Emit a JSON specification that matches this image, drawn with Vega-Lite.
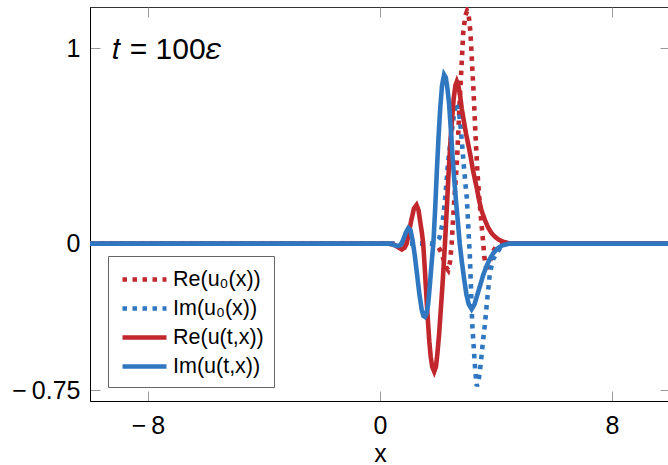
{
  "$schema": "https://vega.github.io/schema/vega-lite/v6.json",
  "width": 580,
  "height": 394,
  "autosize": {"type": "none"},
  "padding": {"left": 90, "top": 7, "right": 0, "bottom": 64},
  "config": {
    "font": "Liberation Sans",
    "view": {"stroke": "#333333", "strokeWidth": 1},
    "axis": {"grid": false, "labelFont": "Liberation Sans", "titleFont": "Liberation Sans", "labelColor": "#000000", "titleColor": "#000000", "domainColor": "#000000", "tickColor": "#999999", "tickSize": -10, "labelFontSize": 25, "titleFontSize": 25, "titleFontWeight": "normal"},
    "legend": {"title": null, "orient": "none", "legendX": 18, "legendY": 249, "padding": 10, "fillColor": "#ffffff", "strokeColor": "#666666", "labelFontSize": 21.5, "labelFont": "Liberation Sans", "labelColor": "#000000", "symbolType": "M-2,0H2", "symbolSize": 484, "symbolStrokeWidth": 4.6, "symbolOffset": 13, "rowPadding": 5, "labelOffset": 15}
  },
  "datasets": {
    "curves": [
      {"s": "Re(u₀(x))", "x": -10, "y": 0},
      {"s": "Re(u₀(x))", "x": 1.7, "y": 0},
      {"s": "Re(u₀(x))", "x": 1.9, "y": -0.005},
      {"s": "Re(u₀(x))", "x": 2.0, "y": -0.015},
      {"s": "Re(u₀(x))", "x": 2.1, "y": -0.04},
      {"s": "Re(u₀(x))", "x": 2.2, "y": -0.085},
      {"s": "Re(u₀(x))", "x": 2.28, "y": -0.12},
      {"s": "Re(u₀(x))", "x": 2.35, "y": -0.135},
      {"s": "Re(u₀(x))", "x": 2.42, "y": -0.09},
      {"s": "Re(u₀(x))", "x": 2.47, "y": 0.0},
      {"s": "Re(u₀(x))", "x": 2.53, "y": 0.15},
      {"s": "Re(u₀(x))", "x": 2.58, "y": 0.26},
      {"s": "Re(u₀(x))", "x": 2.64, "y": 0.39},
      {"s": "Re(u₀(x))", "x": 2.7, "y": 0.565},
      {"s": "Re(u₀(x))", "x": 2.75, "y": 0.735},
      {"s": "Re(u₀(x))", "x": 2.81, "y": 0.906},
      {"s": "Re(u₀(x))", "x": 2.87, "y": 1.08},
      {"s": "Re(u₀(x))", "x": 2.94, "y": 1.165},
      {"s": "Re(u₀(x))", "x": 3.0, "y": 1.19},
      {"s": "Re(u₀(x))", "x": 3.06, "y": 1.165},
      {"s": "Re(u₀(x))", "x": 3.12, "y": 1.08},
      {"s": "Re(u₀(x))", "x": 3.18, "y": 0.906},
      {"s": "Re(u₀(x))", "x": 3.24, "y": 0.735},
      {"s": "Re(u₀(x))", "x": 3.29, "y": 0.565},
      {"s": "Re(u₀(x))", "x": 3.35, "y": 0.39},
      {"s": "Re(u₀(x))", "x": 3.41, "y": 0.26},
      {"s": "Re(u₀(x))", "x": 3.47, "y": 0.15},
      {"s": "Re(u₀(x))", "x": 3.55, "y": 0.02},
      {"s": "Re(u₀(x))", "x": 3.6, "y": -0.07},
      {"s": "Re(u₀(x))", "x": 3.66, "y": -0.12},
      {"s": "Re(u₀(x))", "x": 3.72, "y": -0.12},
      {"s": "Re(u₀(x))", "x": 3.8, "y": -0.085},
      {"s": "Re(u₀(x))", "x": 3.9, "y": -0.04},
      {"s": "Re(u₀(x))", "x": 4.0, "y": -0.015},
      {"s": "Re(u₀(x))", "x": 4.1, "y": -0.005},
      {"s": "Re(u₀(x))", "x": 4.3, "y": 0},
      {"s": "Re(u₀(x))", "x": 10, "y": 0},
      {"s": "Im(u₀(x))", "x": -10, "y": 0},
      {"s": "Im(u₀(x))", "x": 1.8, "y": 0},
      {"s": "Im(u₀(x))", "x": 1.95, "y": 0.01},
      {"s": "Im(u₀(x))", "x": 2.05, "y": 0.03},
      {"s": "Im(u₀(x))", "x": 2.15, "y": 0.1},
      {"s": "Im(u₀(x))", "x": 2.24, "y": 0.22},
      {"s": "Im(u₀(x))", "x": 2.35, "y": 0.42},
      {"s": "Im(u₀(x))", "x": 2.47, "y": 0.57},
      {"s": "Im(u₀(x))", "x": 2.56, "y": 0.67},
      {"s": "Im(u₀(x))", "x": 2.62, "y": 0.71},
      {"s": "Im(u₀(x))", "x": 2.67, "y": 0.72},
      {"s": "Im(u₀(x))", "x": 2.72, "y": 0.68},
      {"s": "Im(u₀(x))", "x": 2.77, "y": 0.61},
      {"s": "Im(u₀(x))", "x": 2.83, "y": 0.51},
      {"s": "Im(u₀(x))", "x": 2.89, "y": 0.4},
      {"s": "Im(u₀(x))", "x": 2.95, "y": 0.3},
      {"s": "Im(u₀(x))", "x": 2.99, "y": 0.24},
      {"s": "Im(u₀(x))", "x": 3.04, "y": 0.1},
      {"s": "Im(u₀(x))", "x": 3.1, "y": -0.07},
      {"s": "Im(u₀(x))", "x": 3.14, "y": -0.24},
      {"s": "Im(u₀(x))", "x": 3.18, "y": -0.41},
      {"s": "Im(u₀(x))", "x": 3.24, "y": -0.55},
      {"s": "Im(u₀(x))", "x": 3.29, "y": -0.66},
      {"s": "Im(u₀(x))", "x": 3.34, "y": -0.73},
      {"s": "Im(u₀(x))", "x": 3.4, "y": -0.7},
      {"s": "Im(u₀(x))", "x": 3.47, "y": -0.62},
      {"s": "Im(u₀(x))", "x": 3.55, "y": -0.5},
      {"s": "Im(u₀(x))", "x": 3.62, "y": -0.41},
      {"s": "Im(u₀(x))", "x": 3.7, "y": -0.28},
      {"s": "Im(u₀(x))", "x": 3.79, "y": -0.15},
      {"s": "Im(u₀(x))", "x": 3.9, "y": -0.08},
      {"s": "Im(u₀(x))", "x": 4.02, "y": -0.05},
      {"s": "Im(u₀(x))", "x": 4.15, "y": -0.02},
      {"s": "Im(u₀(x))", "x": 4.35, "y": 0},
      {"s": "Im(u₀(x))", "x": 10, "y": 0},
      {"s": "Re(u(t,x))", "x": -10, "y": 0},
      {"s": "Re(u(t,x))", "x": 0.3, "y": 0},
      {"s": "Re(u(t,x))", "x": 0.5, "y": -0.006},
      {"s": "Re(u(t,x))", "x": 0.62, "y": -0.018},
      {"s": "Re(u(t,x))", "x": 0.75, "y": -0.03},
      {"s": "Re(u(t,x))", "x": 0.85, "y": -0.02},
      {"s": "Re(u(t,x))", "x": 0.92, "y": 0},
      {"s": "Re(u(t,x))", "x": 1.0, "y": 0.06},
      {"s": "Re(u(t,x))", "x": 1.08, "y": 0.12},
      {"s": "Re(u(t,x))", "x": 1.17, "y": 0.18},
      {"s": "Re(u(t,x))", "x": 1.26, "y": 0.198},
      {"s": "Re(u(t,x))", "x": 1.33, "y": 0.17},
      {"s": "Re(u(t,x))", "x": 1.4, "y": 0.1},
      {"s": "Re(u(t,x))", "x": 1.45, "y": 0.05},
      {"s": "Re(u(t,x))", "x": 1.49, "y": 0},
      {"s": "Re(u(t,x))", "x": 1.55, "y": -0.14},
      {"s": "Re(u(t,x))", "x": 1.6, "y": -0.27},
      {"s": "Re(u(t,x))", "x": 1.65, "y": -0.39},
      {"s": "Re(u(t,x))", "x": 1.7, "y": -0.5},
      {"s": "Re(u(t,x))", "x": 1.75, "y": -0.58},
      {"s": "Re(u(t,x))", "x": 1.8, "y": -0.63},
      {"s": "Re(u(t,x))", "x": 1.87, "y": -0.655},
      {"s": "Re(u(t,x))", "x": 1.93, "y": -0.63},
      {"s": "Re(u(t,x))", "x": 1.98, "y": -0.56},
      {"s": "Re(u(t,x))", "x": 2.04, "y": -0.46},
      {"s": "Re(u(t,x))", "x": 2.1, "y": -0.33},
      {"s": "Re(u(t,x))", "x": 2.16, "y": -0.2},
      {"s": "Re(u(t,x))", "x": 2.2, "y": -0.1},
      {"s": "Re(u(t,x))", "x": 2.24, "y": 0},
      {"s": "Re(u(t,x))", "x": 2.3, "y": 0.17},
      {"s": "Re(u(t,x))", "x": 2.36, "y": 0.35},
      {"s": "Re(u(t,x))", "x": 2.42, "y": 0.5},
      {"s": "Re(u(t,x))", "x": 2.48, "y": 0.63},
      {"s": "Re(u(t,x))", "x": 2.54, "y": 0.74},
      {"s": "Re(u(t,x))", "x": 2.6, "y": 0.81},
      {"s": "Re(u(t,x))", "x": 2.65, "y": 0.83},
      {"s": "Re(u(t,x))", "x": 2.7, "y": 0.81},
      {"s": "Re(u(t,x))", "x": 2.76, "y": 0.76},
      {"s": "Re(u(t,x))", "x": 2.82, "y": 0.69},
      {"s": "Re(u(t,x))", "x": 2.9, "y": 0.62},
      {"s": "Re(u(t,x))", "x": 2.97, "y": 0.56},
      {"s": "Re(u(t,x))", "x": 3.04, "y": 0.51},
      {"s": "Re(u(t,x))", "x": 3.12, "y": 0.45},
      {"s": "Re(u(t,x))", "x": 3.2, "y": 0.38},
      {"s": "Re(u(t,x))", "x": 3.27, "y": 0.33},
      {"s": "Re(u(t,x))", "x": 3.33, "y": 0.29},
      {"s": "Re(u(t,x))", "x": 3.42, "y": 0.22},
      {"s": "Re(u(t,x))", "x": 3.5, "y": 0.17},
      {"s": "Re(u(t,x))", "x": 3.62, "y": 0.12},
      {"s": "Re(u(t,x))", "x": 3.72, "y": 0.085},
      {"s": "Re(u(t,x))", "x": 3.84, "y": 0.055},
      {"s": "Re(u(t,x))", "x": 3.96, "y": 0.036},
      {"s": "Re(u(t,x))", "x": 4.1, "y": 0.02},
      {"s": "Re(u(t,x))", "x": 4.25, "y": 0.01},
      {"s": "Re(u(t,x))", "x": 4.5, "y": 0},
      {"s": "Re(u(t,x))", "x": 10, "y": 0},
      {"s": "Im(u(t,x))", "x": -10, "y": 0},
      {"s": "Im(u(t,x))", "x": 0.35, "y": 0},
      {"s": "Im(u(t,x))", "x": 0.5, "y": -0.008},
      {"s": "Im(u(t,x))", "x": 0.62, "y": -0.012},
      {"s": "Im(u(t,x))", "x": 0.72, "y": -0.005},
      {"s": "Im(u(t,x))", "x": 0.8, "y": 0.02},
      {"s": "Im(u(t,x))", "x": 0.9, "y": 0.06},
      {"s": "Im(u(t,x))", "x": 0.98, "y": 0.08},
      {"s": "Im(u(t,x))", "x": 1.05, "y": 0.07},
      {"s": "Im(u(t,x))", "x": 1.12, "y": 0.02},
      {"s": "Im(u(t,x))", "x": 1.2, "y": -0.06},
      {"s": "Im(u(t,x))", "x": 1.28, "y": -0.16},
      {"s": "Im(u(t,x))", "x": 1.36, "y": -0.26},
      {"s": "Im(u(t,x))", "x": 1.44, "y": -0.34},
      {"s": "Im(u(t,x))", "x": 1.5, "y": -0.37},
      {"s": "Im(u(t,x))", "x": 1.55, "y": -0.375},
      {"s": "Im(u(t,x))", "x": 1.6, "y": -0.36},
      {"s": "Im(u(t,x))", "x": 1.66, "y": -0.31},
      {"s": "Im(u(t,x))", "x": 1.72, "y": -0.21},
      {"s": "Im(u(t,x))", "x": 1.78, "y": -0.1},
      {"s": "Im(u(t,x))", "x": 1.84, "y": 0},
      {"s": "Im(u(t,x))", "x": 1.9, "y": 0.17},
      {"s": "Im(u(t,x))", "x": 1.96, "y": 0.37},
      {"s": "Im(u(t,x))", "x": 2.02, "y": 0.55},
      {"s": "Im(u(t,x))", "x": 2.08, "y": 0.7},
      {"s": "Im(u(t,x))", "x": 2.14, "y": 0.81},
      {"s": "Im(u(t,x))", "x": 2.21, "y": 0.865},
      {"s": "Im(u(t,x))", "x": 2.27, "y": 0.85},
      {"s": "Im(u(t,x))", "x": 2.32, "y": 0.8},
      {"s": "Im(u(t,x))", "x": 2.38, "y": 0.72},
      {"s": "Im(u(t,x))", "x": 2.44, "y": 0.59},
      {"s": "Im(u(t,x))", "x": 2.5, "y": 0.45},
      {"s": "Im(u(t,x))", "x": 2.56, "y": 0.33},
      {"s": "Im(u(t,x))", "x": 2.62, "y": 0.22},
      {"s": "Im(u(t,x))", "x": 2.68, "y": 0.12},
      {"s": "Im(u(t,x))", "x": 2.75, "y": 0.0},
      {"s": "Im(u(t,x))", "x": 2.82, "y": -0.09},
      {"s": "Im(u(t,x))", "x": 2.9, "y": -0.18},
      {"s": "Im(u(t,x))", "x": 2.98, "y": -0.26},
      {"s": "Im(u(t,x))", "x": 3.06, "y": -0.31},
      {"s": "Im(u(t,x))", "x": 3.16, "y": -0.335},
      {"s": "Im(u(t,x))", "x": 3.26, "y": -0.31},
      {"s": "Im(u(t,x))", "x": 3.36, "y": -0.26},
      {"s": "Im(u(t,x))", "x": 3.46, "y": -0.21},
      {"s": "Im(u(t,x))", "x": 3.56, "y": -0.16},
      {"s": "Im(u(t,x))", "x": 3.66, "y": -0.12},
      {"s": "Im(u(t,x))", "x": 3.78, "y": -0.08},
      {"s": "Im(u(t,x))", "x": 3.9, "y": -0.05},
      {"s": "Im(u(t,x))", "x": 4.05, "y": -0.025},
      {"s": "Im(u(t,x))", "x": 4.2, "y": -0.01},
      {"s": "Im(u(t,x))", "x": 4.45, "y": 0},
      {"s": "Im(u(t,x))", "x": 10, "y": 0}
    ],
    "note": [
      {"x": -9.23, "y": 0.99, "label": "𝑡 = 100𝜀"}
    ]
  },
  "layer": [
    {
      "data": {"name": "curves"},
      "mark": {"type": "line", "strokeWidth": 4.6, "clip": true, "strokeCap": "butt"},
      "encoding": {
        "x": {"field": "x", "type": "quantitative", "scale": {"domain": [-10, 10], "nice": false, "zero": false},
              "axis": {"orient": "bottom", "values": [-8, 0, 8], "title": "x", "labelPadding": 22, "titlePadding": 3, "domain": true, "labelExpr": "replace(datum.label, '−', '−\u2009')"}},
        "y": {"field": "y", "type": "quantitative", "scale": {"domain": [-0.805, 1.211], "nice": false, "zero": false},
              "axis": {"orient": "left", "values": [-0.75, 0, 1], "title": null, "labelPadding": 20, "format": ".2~f", "labelExpr": "replace(datum.label, '−', '−\u2009')"}},
        "color": {"field": "s", "type": "nominal",
                  "scale": {"domain": ["Re(u₀(x))", "Im(u₀(x))", "Re(u(t,x))", "Im(u(t,x))"], "range": ["#c1272d", "#2f78c1", "#c1272d", "#2f78c1"]}},
        "strokeDash": {"field": "s", "type": "nominal",
                  "scale": {"domain": ["Re(u₀(x))", "Im(u₀(x))", "Re(u(t,x))", "Im(u(t,x))"], "range": [[4.5, 5.5], [4.5, 5.5], [1, 0], [1, 0]]}}
      }
    },
    {
      "data": {"name": "note"},
      "mark": {"type": "text", "align": "left", "baseline": "middle", "fontSize": 30, "font": "Liberation Sans", "color": "#000000"},
      "encoding": {
        "x": {"field": "x", "type": "quantitative", "axis": {"orient": "top", "values": [-8, 0, 8], "labels": false, "title": null, "domain": false}},
        "y": {"field": "y", "type": "quantitative", "axis": {"orient": "right", "values": [-0.75, 0, 1], "labels": false, "title": null, "domain": false}},
        "text": {"field": "label"}
      }
    }
  ],
  "resolve": {"axis": {"x": "independent", "y": "independent"}}
}
